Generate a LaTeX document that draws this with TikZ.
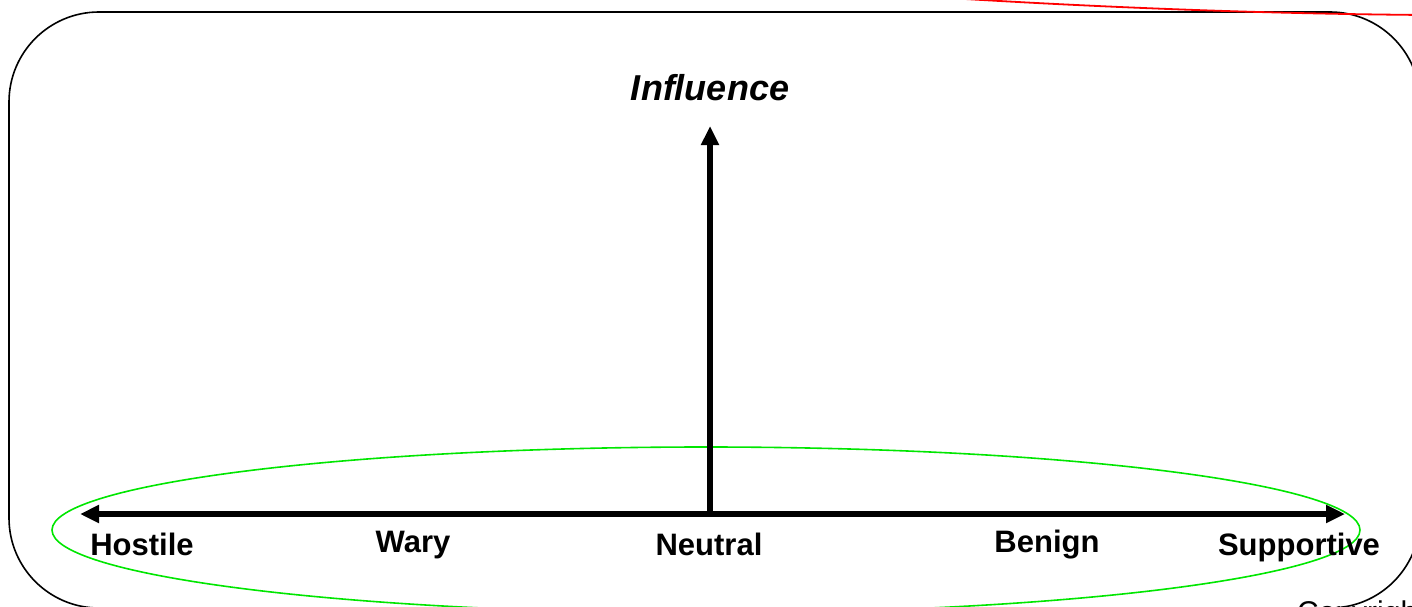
\documentclass[tikz,border=0pt]{standalone}
\usepackage{fontspec}
\setmainfont{Liberation Sans}
\usetikzlibrary{arrows.meta}
\begin{document}
\begin{tikzpicture}[x=1pt,y=-1pt,
  lbl/.style={font=\fontsize{31}{35}\selectfont\bfseries, anchor=base, inner sep=0pt},
  axis/.style={line width=5.5pt, -{Triangle[length=19pt,width=17pt]}},
  frame/.style={line width=1.6pt, rounded corners=90pt},
  grn/.style={draw={rgb,255:red,0;green,230;blue,0}, line width=1.6pt},
  redl/.style={draw=red, line width=1.8pt}]
\useasboundingbox (0,0) rectangle (1412,607);
\draw[frame] (9,12) rectangle (1420,608);
\draw[redl] (965,-1) .. controls (1150,10) and (1300,14) .. (1425,15);
\draw[grn] (706,530) ellipse [x radius=654, y radius=83];
\coordinate (L) at (80,514);
\coordinate (R) at (1345,514);
\coordinate (O) at (710,514);
\coordinate (T) at (710,126);
\draw[axis] (O) -- (L);
\draw[axis] (O) -- (R);
\draw[axis] (O) -- (T);
\node[lbl] (hostile) at (142,555) {Hostile};
\node[lbl] (wary) at (413,552) {Wary};
\node[lbl] (neutral) at (709,555) {Neutral};
\node[lbl] (benign) at (1047,552) {Benign};
\node[lbl] (supportive) at (1299,555) {Supportive};
\node[font=\fontsize{36}{40}\selectfont\bfseries\itshape, anchor=base, inner sep=0pt] (influence) at (710,101) {Influence};
\node[font=\fontsize{30}{34}\selectfont, anchor=base west, inner sep=0pt] (copy) at (1297,622) {Copyright};
\end{tikzpicture}
\end{document}
